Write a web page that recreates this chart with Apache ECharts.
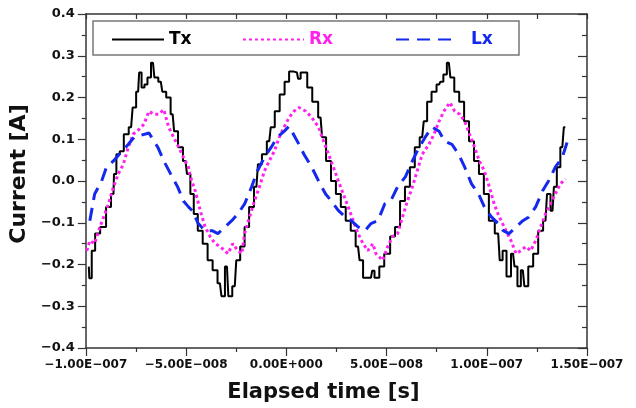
<!DOCTYPE html>
<html>
<head>
<meta charset="utf-8">
<script src="https://cdn.jsdelivr.net/npm/echarts@6/dist/echarts.min.js"></script>
<style>
  html, body { margin: 0; padding: 0; background: #fff; }
  #main { width: 636px; height: 408px; }
</style>
</head>
<body>
<div id="main"></div>
<script>
// time in ns (axis labels shown in seconds), current in A
var txTime = [-98.5,-98.0,-96.1,-94.6,-91.1,-88.7,-86.2,-85.7,-83.8,-82.3,-79.8,-77.4,-75.9,-73.9,-72.9,-71.5,-70.0,-68.5,-66.5,-65.1,-62.6,-61.1,-58.7,-56.7,-55.2,-52.8,-50.3,-48.8,-46.9,-45.4,-42.9,-40.5,-38.0,-35.5,-33.1,-31.6,-29.6,-28.2,-25.7,-24.2,-21.8,-19.8,-17.3,-14.9,-13.4,-10.9,-8.5,-7.0,-4.5,-2.1,0.4,2.4,5.3,6.5,7.8,9.7,11.2,14.7,17.1,18.6,21.1,23.5,26.0,28.4,30.9,33.4,35.8,37.3,39.3,42.2,43.5,44.5,45.7,47.1,50.6,53.0,55.5,58.0,60.4,62.9,65.3,67.8,69.3,71.2,73.7,76.2,77.6,79.1,81.1,82.6,85.0,87.5,89.9,92.4,94.9,97.3,99.8,102.3,105.7,107.2,108.6,111.1,113.1,114.6,116.0,118.0,119.5,121.9,124.4,126.9,129.3,130.8,132.8,134.2,135.7,137.7,139.2];
var txCurrent = [-0.205,-0.233,-0.167,-0.126,-0.11,-0.062,-0.031,0.017,0.064,0.071,0.112,0.129,0.176,0.214,0.26,0.224,0.231,0.248,0.283,0.248,0.238,0.214,0.2,0.16,0.119,0.081,0.048,0.017,-0.031,-0.079,-0.119,-0.15,-0.19,-0.214,-0.245,-0.276,-0.205,-0.276,-0.252,-0.19,-0.157,-0.11,-0.062,-0.014,0.04,0.064,0.095,0.129,0.167,0.207,0.238,0.262,0.26,0.245,0.26,0.26,0.224,0.19,0.152,0.105,0.048,0,-0.031,-0.062,-0.095,-0.119,-0.157,-0.19,-0.232,-0.232,-0.215,-0.232,-0.232,-0.205,-0.174,-0.133,-0.11,-0.048,-0.014,0.033,0.081,0.105,0.143,0.19,0.214,0.231,0.238,0.255,0.283,0.248,0.214,0.19,0.143,0.095,0.048,0.017,-0.031,-0.095,-0.126,-0.19,-0.167,-0.229,-0.174,-0.205,-0.252,-0.214,-0.252,-0.205,-0.174,-0.119,-0.095,-0.031,-0.071,-0.014,0.033,0.081,0.129];

var rxTime = [-99.5,-98.0,-95.6,-93.6,-91.1,-88.7,-86.2,-83.8,-81.3,-78.8,-76.4,-73.4,-71.0,-68.5,-66.0,-63.6,-61.1,-58.7,-56.2,-53.7,-51.3,-48.8,-47.8,-45.4,-42.9,-40.5,-38.0,-35.5,-33.1,-30.6,-29.1,-26.7,-24.2,-22.2,-20.8,-18.3,-15.9,-13.4,-10.9,-8.5,-6.0,-3.5,-1.1,1.4,3.8,6.3,9.7,12.7,16.1,18.6,21.1,23.5,26.0,28.4,30.9,33.4,35.8,38.3,40.7,43.2,44.7,48.1,50.6,53.0,55.5,58.0,60.4,62.9,65.3,67.8,71.2,73.7,76.2,78.6,81.6,84.0,86.5,89.0,91.4,93.9,96.3,98.8,101.3,103.7,106.2,107.2,109.6,112.1,114.6,117.0,119.5,121.9,124.4,126.9,129.3,131.8,134.2,136.7,139.2];
var rxCurrent = [-0.167,-0.143,-0.15,-0.119,-0.086,-0.055,-0.014,0.017,0.04,0.081,0.112,0.124,0.136,0.167,0.16,0.16,0.171,0.129,0.105,0.081,0.057,0.033,0.01,-0.024,-0.071,-0.11,-0.133,-0.15,-0.157,-0.167,-0.174,-0.15,-0.167,-0.174,-0.126,-0.086,-0.048,-0.014,0.024,0.048,0.071,0.105,0.129,0.152,0.167,0.176,0.167,0.152,0.129,0.095,0.064,0.033,0,-0.031,-0.062,-0.095,-0.126,-0.15,-0.167,-0.15,-0.174,-0.19,-0.157,-0.133,-0.126,-0.086,-0.048,-0.014,0.024,0.064,0.088,0.112,0.143,0.167,0.188,0.167,0.16,0.143,0.112,0.081,0.048,0.024,-0.014,-0.055,-0.086,-0.095,-0.119,-0.143,-0.174,-0.167,-0.157,-0.167,-0.143,-0.11,-0.079,-0.055,-0.031,-0.007,0.005];

var lxTime = [-98.0,-95.6,-92.1,-89.7,-86.2,-83.3,-78.8,-75.9,-68.5,-64.1,-61.1,-57.7,-54.2,-51.3,-48.8,-46.9,-43.9,-40.5,-37.0,-34.1,-30.6,-27.2,-24.2,-20.8,-17.3,-14.4,-10.9,-7.5,-4.5,-1.1,1.4,6.3,8.8,12.7,16.1,19.6,22.5,26.0,29.4,32.4,35.8,39.3,42.2,45.7,49.1,52.1,55.5,59.4,62.9,66.3,69.3,72.7,76.2,79.1,82.6,86.0,89.0,92.4,95.9,98.8,102.3,105.7,108.2,111.1,114.6,118.0,121.0,124.4,127.8,130.8,134.2,137.7,140.1];
var lxCurrent = [-0.095,-0.031,0,0.033,0.048,0.064,0.088,0.105,0.115,0.081,0.048,0.017,-0.014,-0.048,-0.062,-0.071,-0.102,-0.119,-0.119,-0.126,-0.11,-0.095,-0.079,-0.055,-0.014,0.024,0.057,0.081,0.105,0.119,0.131,0.088,0.064,0.033,0,-0.031,-0.048,-0.071,-0.086,-0.095,-0.11,-0.119,-0.102,-0.095,-0.055,-0.048,-0.014,0.01,0.048,0.081,0.105,0.129,0.119,0.095,0.088,0.064,0.033,-0.007,-0.031,-0.062,-0.086,-0.102,-0.119,-0.126,-0.11,-0.095,-0.086,-0.062,-0.024,0,0.033,0.057,0.093];

function pairs(t, v) {
    var out = [];
    for (var i = 0; i < t.length; i++) out.push([t[i], v[i]]);
    return out;
}

function fmtTime(v) {
    var s = (v * 1e-9).toExponential(2);
    var p = s.split('e');
    var e = parseInt(p[1], 10);
    var ex = String(Math.abs(e));
    while (ex.length < 3) ex = '0' + ex;
    return (p[0] + 'E' + (e < 0 ? '-' : '+') + ex).replace(/-/g, '\u2212');
}
function fmtCurrent(v) {
    return v.toFixed(1).replace('-', '\u2212');
}

var FONT = 'DejaVu Sans';
var AXIS_COLOR = '#333';
var TX_COLOR = '#000';
var RX_COLOR = '#ff22ee';
var LX_COLOR = '#1428ee';

function legendFor(name, left, width, color, extraPad) {
    return {
        data: [name], left: left, top: 31, padding: 0, itemWidth: width, itemHeight: 14,
        itemStyle: { opacity: 0 },
        textStyle: { color: color, fontFamily: FONT, fontWeight: 'bold', fontSize: 17, padding: [0, 0, 0, extraPad] },
        z: 10
    };
}

var chart = echarts.init(document.getElementById('main'));
chart.setOption({
    animation: false,
    backgroundColor: '#fff',
    grid: { left: 79, right: 49, top: 14, bottom: 58 },
    graphic: [
        {
            type: 'rect',
            shape: { x: 93, y: 21, width: 426, height: 34 },
            style: { fill: '#fff', stroke: '#777', lineWidth: 1.5 },
            z: 5
        }
    ],
    legend: [
        legendFor('Tx', 111, 52, TX_COLOR, 0),
        legendFor('Rx', 242, 61, RX_COLOR, 0),
        legendFor('Lx', 395, 60, LX_COLOR, 10)
    ],
    xAxis: [
        {
            type: 'value', min: -100, max: 150, interval: 50,
            name: 'Elapsed time [s]', nameLocation: 'middle', nameGap: 34,
            nameTextStyle: { fontFamily: FONT, fontWeight: 'bold', fontSize: 21, color: '#111', padding: [0, 26, 0, 0] },
            axisLine: { show: true, onZero: false, lineStyle: { color: AXIS_COLOR, width: 1.5 } },
            axisTick: { show: true, length: 8, lineStyle: { color: AXIS_COLOR, width: 1.2 } },
            minorTick: { show: true, splitNumber: 2, length: 4, lineStyle: { color: AXIS_COLOR, width: 1.2 } },
            axisLabel: { formatter: fmtTime, margin: 11, fontFamily: FONT, fontWeight: 'bold', fontSize: 12, color: '#111' },
            splitLine: { show: false }
        },
        {
            type: 'value', position: 'top', min: -100, max: 150, interval: 50,
            axisLine: { show: true, onZero: false, lineStyle: { color: AXIS_COLOR, width: 1.5 } },
            axisTick: { show: true, inside: true, length: 5, lineStyle: { color: AXIS_COLOR, width: 1.2 } },
            minorTick: { show: true, splitNumber: 2, length: 5, lineStyle: { color: AXIS_COLOR, width: 1.2 } },
            axisLabel: { show: false },
            splitLine: { show: false }
        }
    ],
    yAxis: [
        {
            type: 'value', min: -0.4, max: 0.4, interval: 0.1,
            name: 'Current [A]', nameLocation: 'middle', nameGap: 54, nameRotate: 90,
            nameTextStyle: { fontFamily: FONT, fontWeight: 'bold', fontSize: 22, color: '#111', padding: [0, 0, 0, 14] },
            axisLine: { show: true, onZero: false, lineStyle: { color: AXIS_COLOR, width: 1.5 } },
            axisTick: { show: true, length: 8, lineStyle: { color: AXIS_COLOR, width: 1.2 } },
            minorTick: { show: true, splitNumber: 2, length: 4, lineStyle: { color: AXIS_COLOR, width: 1.2 } },
            axisLabel: { formatter: fmtCurrent, margin: 11, fontFamily: FONT, fontWeight: 'bold', fontSize: 13, color: '#111' },
            splitLine: { show: false }
        },
        {
            type: 'value', position: 'right', min: -0.4, max: 0.4, interval: 0.1,
            axisLine: { show: true, onZero: false, lineStyle: { color: AXIS_COLOR, width: 1.5 } },
            axisTick: { show: true, inside: true, length: 9, lineStyle: { color: AXIS_COLOR, width: 1.2 } },
            minorTick: { show: true, splitNumber: 2, length: 5, lineStyle: { color: AXIS_COLOR, width: 1.2 } },
            axisLabel: { show: false },
            splitLine: { show: false }
        }
    ],
    series: [
        {
            name: 'Tx', type: 'line', data: pairs(txTime, txCurrent),
            step: 'middle',
            symbol: 'none', color: TX_COLOR,
            lineStyle: { color: TX_COLOR, width: 2, type: 'solid' }
        },
        {
            name: 'Rx', type: 'line', data: pairs(rxTime, rxCurrent),
            symbol: 'none', color: RX_COLOR,
            lineStyle: { color: RX_COLOR, width: 3, type: [3, 3] }
        },
        {
            name: 'Lx', type: 'line', data: pairs(lxTime, lxCurrent),
            symbol: 'none', color: LX_COLOR,
            lineStyle: { color: LX_COLOR, width: 3, type: [13, 8] }
        }
    ]
});
</script>
</body>
</html>
